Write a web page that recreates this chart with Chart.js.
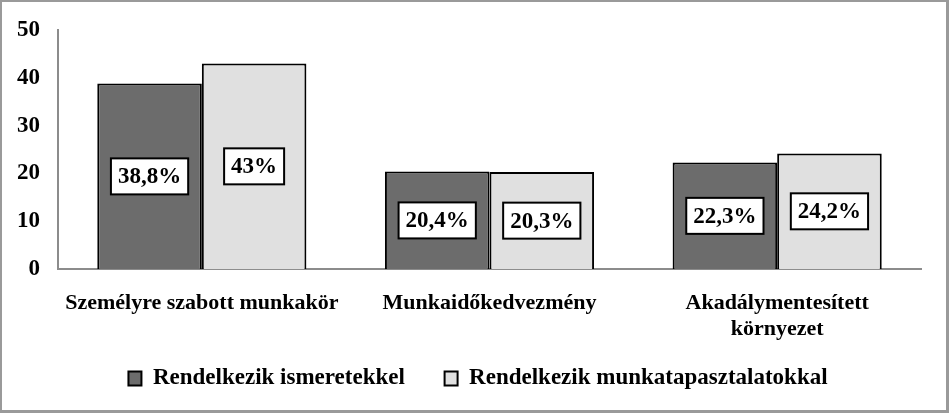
<!DOCTYPE html>
<html>
<head>
<meta charset="utf-8">
<script src="https://cdn.jsdelivr.net/npm/chart.js@4.4.0/dist/chart.umd.min.js"></script>
<style>
  html, body { margin: 0; padding: 0; background: #fff; }
  #wrap { position: relative; width: 949px; height: 413px; }
  #frame { position: absolute; left: 0; top: 0; width: 949px; height: 413px; box-sizing: border-box;
           border: 2px solid #9a9a9a; border-right-width: 3px; border-bottom-width: 3px; pointer-events: none; }
</style>
</head>
<body>
<div id="wrap">
  <canvas id="myChart" width="949" height="413"></canvas>
  <div id="frame"></div>
</div>
<script>
// chart data
var categories = ["Személyre szabott munkakör", "Munkaidőkedvezmény", ["Akadálymentesített", "környezet"]];
var seriesNames = ["Rendelkezik ismeretekkel", "Rendelkezik munkatapasztalatokkal"];
var knowledgeValues = [38.8, 20.4, 22.3];
var experienceValues = [43, 20.3, 24.2];
var valueLabels = [["38,8%", "20,4%", "22,3%"], ["43%", "20,3%", "24,2%"]];
var yTicks = [0, 10, 20, 30, 40, 50];

var serif = "'Liberation Serif', 'Times New Roman', serif";

// white boxed value labels in the middle of each bar
var boxLabels = {
  id: "boxLabels",
  afterDatasetsDraw: function(chart) {
    var ctx = chart.ctx;
    ctx.save();
    ctx.font = "bold 23px " + serif;
    ctx.textAlign = "center";
    ctx.textBaseline = "middle";
    chart.data.datasets.forEach(function(ds, di) {
      var meta = chart.getDatasetMeta(di);
      meta.data.forEach(function(bar, i) {
        var txt = valueLabels[di][i];
        var w = ctx.measureText(txt).width + 14;
        var h = 36;
        var cy = (bar.y + bar.base) / 2;
        ctx.fillStyle = "#fff";
        ctx.fillRect(bar.x - w / 2, cy - h / 2, w, h);
        ctx.lineWidth = 2;
        ctx.strokeStyle = "#000";
        ctx.strokeRect(bar.x - w / 2, cy - h / 2, w, h);
        ctx.fillStyle = "#000";
        ctx.fillText(txt, bar.x, cy + 1);
      });
    });
    ctx.restore();
  }
};

new Chart("myChart", {
  type: "bar",
  data: {
    labels: categories,
    datasets: [{
      label: seriesNames[0] + "     ",
      data: knowledgeValues,
      backgroundColor: "#6c6c6c",
      borderColor: "#000",
      borderWidth: 2
    }, {
      label: seriesNames[1] + "    ",
      data: experienceValues,
      backgroundColor: "#e0e0e0",
      borderColor: "#000",
      borderWidth: 2
    }]
  },
  options: {
    responsive: false,
    animation: false,
    layout: { padding: { top: 30, right: 28, bottom: 13, left: 0 } },
    datasets: { bar: { barPercentage: 1, categoryPercentage: 0.727 } },
    scales: {
      x: {
        grid: { display: false },
        border: { display: true, color: "#8c8c8c", width: 2 },
        ticks: { color: "#000", font: { family: serif, size: 22, weight: "bold" }, padding: 13, maxRotation: 0 }
      },
      y: {
        min: 0, max: 50,
        afterBuildTicks: function(scale) { scale.ticks = yTicks.map(function(v) { return { value: v }; }); },
        afterFit: function(scale) { scale.width = 58; },
        grid: { display: false },
        border: { display: true, color: "#8c8c8c", width: 2 },
        ticks: { color: "#000", font: { family: serif, size: 23, weight: "bold" }, padding: 10 }
      }
    },
    plugins: {
      legend: {
        position: "bottom",
        fullSize: false,
        labels: {
          color: "#000",
          font: { family: serif, size: 23, weight: "bold" },
          boxWidth: 13, boxHeight: 14, padding: 11
        }
      },
      tooltip: { enabled: false }
    }
  },
  plugins: [boxLabels]
});
</script>
</body>
</html>
